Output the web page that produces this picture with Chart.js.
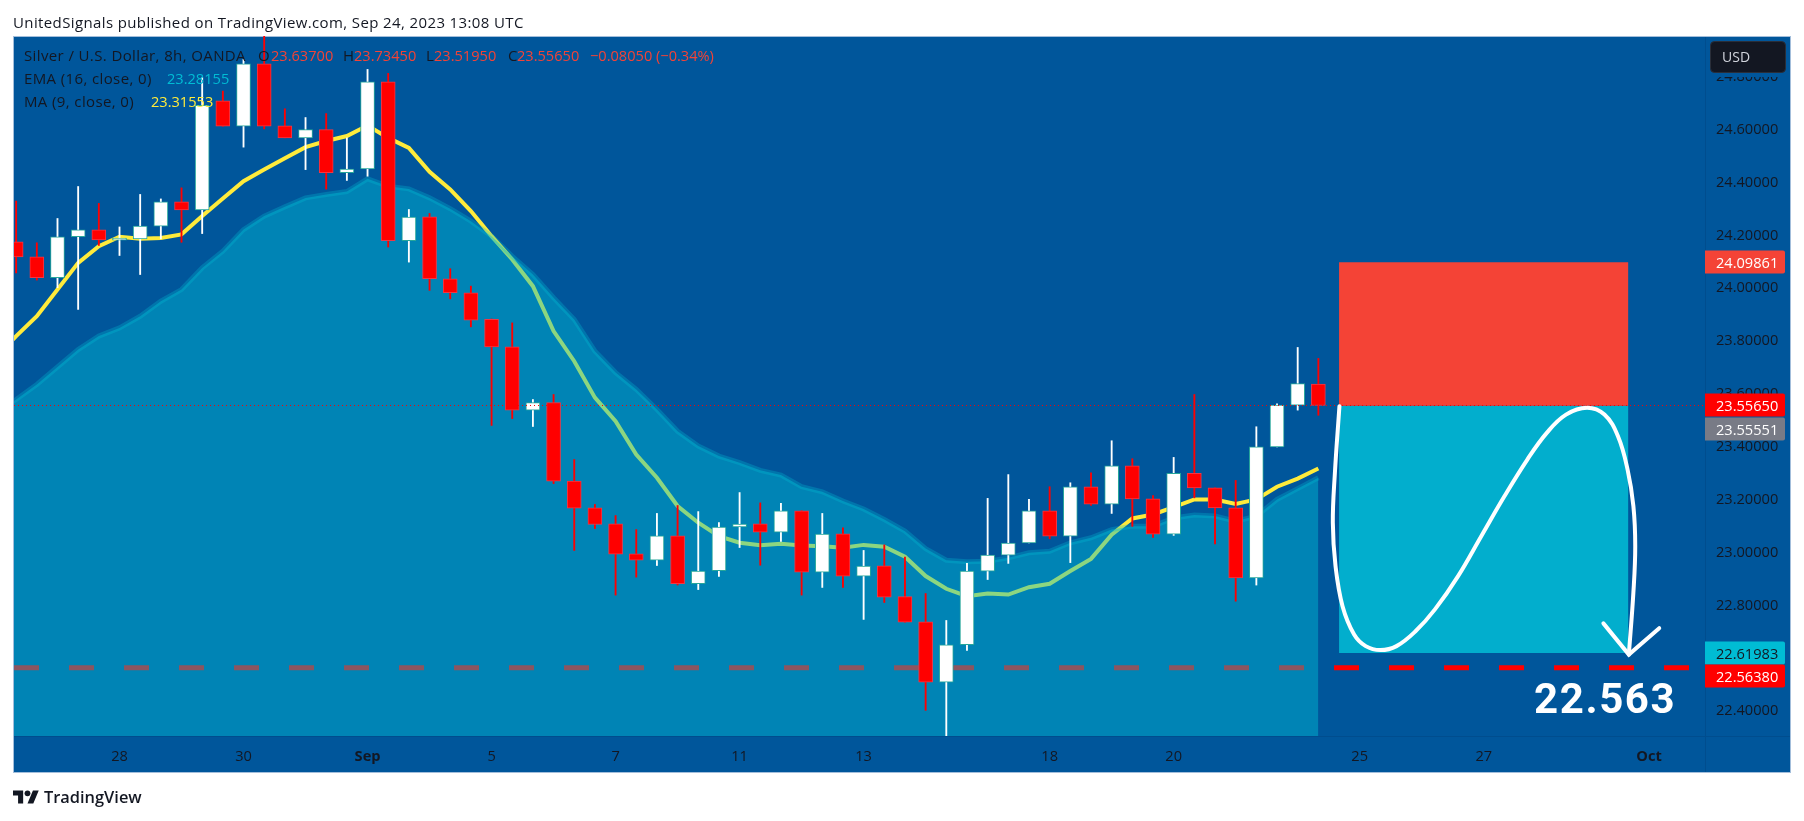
<!DOCTYPE html>
<html><head><meta charset="utf-8"><title>Silver / U.S. Dollar</title>
<style>html,body{margin:0;padding:0;background:#fff}canvas{display:block}</style>
<script src="https://cdn.jsdelivr.net/npm/chart.js@4"></script></head>
<body><canvas id="c" width="1804" height="821"></canvas>
<script>
const opens=[24.176,24.119,24.040,24.195,24.221,24.182,24.187,24.235,24.327,24.296,24.709,24.613,24.849,24.615,24.569,24.600,24.437,24.452,24.781,24.180,24.270,24.036,23.983,23.882,23.778,23.539,23.567,23.270,23.169,23.109,22.995,22.971,23.063,22.882,22.931,23.097,23.109,23.077,23.158,22.926,23.071,22.911,22.950,22.833,22.738,22.510,22.651,22.930,22.990,23.036,23.158,23.062,23.249,23.183,23.328,23.203,23.070,23.300,23.245,23.169,22.904,23.400,23.558,23.637];
const closes=[24.119,24.040,24.195,24.221,24.183,24.190,24.235,24.327,24.296,24.692,24.613,24.849,24.613,24.569,24.600,24.437,24.451,24.781,24.180,24.269,24.036,23.983,23.879,23.778,23.539,23.567,23.270,23.168,23.106,22.994,22.971,23.063,22.882,22.930,23.096,23.108,23.077,23.158,22.926,23.070,22.911,22.949,22.831,22.737,22.510,22.651,22.930,22.990,23.036,23.158,23.062,23.249,23.183,23.328,23.203,23.070,23.300,23.245,23.169,22.904,23.400,23.558,23.639,23.5565];
const highs=[24.330,24.172,24.264,24.385,24.321,24.232,24.355,24.338,24.380,24.797,24.746,24.866,25.000,24.679,24.646,24.661,24.569,24.828,24.813,24.298,24.283,24.074,24.008,23.884,23.869,23.579,23.598,23.352,23.182,23.140,23.087,23.148,23.178,23.155,23.113,23.227,23.188,23.186,23.158,23.148,23.094,23.008,23.029,22.983,22.845,22.743,22.959,23.205,23.295,23.201,23.249,23.264,23.302,23.423,23.355,23.216,23.360,23.598,23.245,23.273,23.476,23.563,23.776,23.7345];
const lows=[24.058,24.031,24.002,23.920,24.162,24.124,24.052,24.187,24.174,24.207,24.613,24.534,24.603,24.569,24.449,24.375,24.408,24.424,24.156,24.099,23.992,23.960,23.854,23.481,23.507,23.477,23.261,23.008,23.091,22.839,22.907,22.951,22.877,22.860,22.910,23.019,22.952,23.042,22.839,22.868,22.868,22.747,22.811,22.737,22.403,22.300,22.630,22.898,22.959,23.036,23.052,22.962,23.178,23.148,23.099,23.057,23.065,23.207,23.033,22.816,22.877,23.400,23.539,23.5195];
const maValues=[23.735,23.819,23.894,23.995,24.096,24.159,24.195,24.187,24.190,24.204,24.273,24.340,24.405,24.449,24.492,24.534,24.557,24.576,24.616,24.569,24.531,24.441,24.374,24.292,24.197,24.109,24.008,23.838,23.724,23.586,23.497,23.371,23.283,23.176,23.113,23.062,23.037,23.028,23.033,23.027,23.024,23.018,23.029,23.022,22.984,22.911,22.863,22.835,22.845,22.841,22.869,22.882,22.930,22.976,23.068,23.129,23.144,23.172,23.201,23.201,23.184,23.201,23.249,23.280,23.318];
const emaValues=[23.529,23.579,23.636,23.702,23.768,23.819,23.850,23.894,23.951,23.995,24.077,24.140,24.222,24.273,24.308,24.342,24.355,24.366,24.414,24.386,24.376,24.342,24.301,24.254,24.197,24.121,24.052,23.964,23.882,23.762,23.681,23.617,23.541,23.459,23.403,23.365,23.340,23.311,23.293,23.249,23.230,23.195,23.165,23.125,23.081,23.015,22.971,22.965,22.967,22.980,22.999,23.005,23.037,23.056,23.087,23.100,23.100,23.131,23.142,23.138,23.119,23.138,23.201,23.242,23.283];
const curveX=[64.02,63.80,63.70,63.83,64.17,64.73,65.29,66.00,66.78,67.71,68.64,69.76,70.88,72.00,73.11,74.05,74.98,76.00,76.84,77.49,77.96,78.24,78.33,78.24,78.02];
const curveY=[23.554,23.302,23.113,22.949,22.797,22.690,22.646,22.631,22.646,22.703,22.785,22.911,23.062,23.213,23.352,23.453,23.522,23.548,23.522,23.441,23.314,23.176,23.024,22.848,22.614];
const arrowX=[76.79,78.02,79.49];
const arrowY=[22.732,22.614,22.714];
const tickIndex=[5,11,17,23,29,35,41,50,56,65,71,79];
const tickLabels=['28','30','Sep','5','7','11','13','18','20','25','27','Oct'];
const yTicks=[24.8,24.6,24.4,24.2,24.0,23.8,23.6,23.4,23.2,23.0,22.8,22.6,22.4];
const boxStartIndex=64, boxEndIndex=78;
const stopPrice=24.09861, entryPrice=23.55551, targetPrice=22.61983, lastPrice=23.5565, levelPrice=22.5638;

const FONT='"Open Sans"';
const NUMSIZE=14.6;
const INK='#131722';
const BG='#00569b';

const framePlugin={id:'frame',
 beforeDraw(ch){const c=ch.ctx;c.save();
  c.fillStyle='#fff';c.fillRect(0,0,1804,821);
  c.fillStyle=BG;c.fillRect(13,36,1778,737);
  c.strokeStyle='#a3bedb';c.lineWidth=1;c.strokeRect(13.5,36.5,1777,736);
  c.strokeStyle='#004d8e';
  c.beginPath();c.moveTo(1705.5,37);c.lineTo(1705.5,772);c.moveTo(14,736.5);c.lineTo(1790,736.5);c.stroke();
  c.restore();},
 afterDraw(ch){const c=ch.ctx,y=ch.scales.y;c.save();
  c.textBaseline='middle';
  c.fillStyle=INK;c.font=`15px ${FONT}`;c.letterSpacing='0.38px';
  c.fillText('UnitedSignals published on TradingView.com, Sep 24, 2023 13:08 UTC',13,24);
  c.letterSpacing='0px';
  c.save();c.translate(13,787.5);c.scale(0.725,0.725);c.fillStyle=INK;
  c.fill(new Path2D('M14 22H7V11H0V4h14v18zM28 22h-8l7.5-18h8L28 22z'));
  c.beginPath();c.arc(20,8,4,0,Math.PI*2);c.fill();c.restore();
  c.fillStyle=INK;c.font='600 16.4px "Open Sans"';c.fillText('TradingView',44,798);
  const red='#f44336';
  const txt=[['Silver / U.S. Dollar, 8h, OANDA',24,57,INK],['O',258,57,INK],['H',343,57,INK],['L',426,57,INK],['C',508,57,INK],['EMA (16, close, 0)',24,80,INK],['MA (9, close, 0)',24,103,INK]];
  const num=[['23.63700',271,57,red],['23.73450',354,57,red],['23.51950',434,57,red],['23.55650',517,57,red],['\u22120.08050 (\u22120.34%)',590,57,red],['23.28155',167,80,'#00bcd4'],['23.31553',151,103,'#ffeb3b']];
  c.font=`15px ${FONT}`;c.letterSpacing='0.38px';
  txt.forEach(l=>{c.fillStyle=l[3];c.fillText(l[0],l[1],l[2]);});
  c.letterSpacing='0px';c.font=`${NUMSIZE}px ${FONT}`;
  num.forEach(l=>{c.fillStyle=l[3];c.fillText(l[0],l[1],l[2]);});
  c.fillStyle=BG;c.fillRect(1706,37,84,40);
  c.fillStyle=INK;c.strokeStyle='#2a2e39';c.beginPath();c.roundRect(1710.5,41.5,75,31,4);c.fill();c.stroke();
  c.fillStyle='#d1d4dc';c.font=`14px ${FONT}`;c.fillText('USD',1722,58);
  c.font=`${NUMSIZE}px ${FONT}`;
  const boxes=[[stopPrice,0,'#f44336','#fff'],[lastPrice,0,'#ff0000','#fff'],[entryPrice,23,'#787b86','#fff'],[targetPrice,0,'#00bcd4',INK],[levelPrice,8,'#ff0000','#fff']];
  boxes.forEach(b=>{const py=Math.round(y.getPixelForValue(b[0]))+b[1];
   c.fillStyle=b[2];c.beginPath();c.roundRect(1705,py-11.5,80,23,[0,2,2,0]);c.fill();
   c.fillStyle=b[3];c.fillText(b[0].toFixed(5),1716,py+1.5);});
  c.fillStyle='#fff';c.font='bold 42px Roboto';c.letterSpacing='1.6px';c.fillText('22.563',1534,702);c.letterSpacing='0px';
  c.restore();}
};

const lineBase={pointRadius:0,pointHoverRadius:0,fill:false};
const xy=(xs,ys)=>xs.map((x,i)=>({x,y:ys[i]}));
new Chart(document.getElementById('c'),{
 type:'line',
 plugins:[framePlugin],
 data:{datasets:[
  {...lineBase,label:'Curve',order:0,data:xy(curveX,curveY),borderColor:'#fff',borderWidth:4,tension:0.4,borderCapStyle:'round',borderJoinStyle:'round'},
  {...lineBase,label:'Arrow',order:0,data:xy(arrowX,arrowY),borderColor:'#fff',borderWidth:4,tension:0,borderCapStyle:'round',borderJoinStyle:'miter'},
  {...lineBase,label:'Last price',order:1,data:xy([-0.104,81.705],[lastPrice,lastPrice]),borderColor:'#ff0000',borderWidth:1,borderDash:[1,3]},
  {type:'bar',label:'Body',order:2,grouped:false,barThickness:14,borderWidth:1,borderSkipped:false,
   data:opens.map((o,i)=>({x:i,y:[o,closes[i]]})),
   backgroundColor:closes.map((v,i)=>v>=opens[i]?'#ffffff':'#ff0000'),
   borderColor:closes.map((v,i)=>v>=opens[i]?'#26a69a':'#f23645')},
  {type:'bar',label:'Wick',order:3,grouped:false,barThickness:1.2,borderWidth:0,
   data:highs.map((h,i)=>({x:i,y:[lows[i],h]})),
   backgroundColor:closes.map((v,i)=>v>=opens[i]?'#ffffff':'#ff0000')},
  {...lineBase,label:'EMA',order:4,data:emaValues.map((v,i)=>({x:i-1,y:v})),borderColor:'rgba(0,188,212,0.3)',borderWidth:5,tension:0,fill:'start',backgroundColor:'rgba(0,188,212,0.45)'},
  {...lineBase,label:'MA',order:5,data:maValues.map((v,i)=>({x:i-1,y:v})),borderColor:'#ffeb3b',borderWidth:4,tension:0},
  {...lineBase,label:'Level',order:6,data:xy([-0.104,81.705],[levelPrice,levelPrice]),borderColor:'#ff0000',borderWidth:5,borderDash:[25,30]},
  {...lineBase,label:'Stop zone',order:7,data:xy([boxStartIndex,boxEndIndex],[stopPrice,stopPrice]),borderWidth:0,borderColor:'transparent',fill:{value:entryPrice},backgroundColor:'#f44336'},
  {...lineBase,label:'Target zone',order:7,data:xy([boxStartIndex,boxEndIndex],[entryPrice,entryPrice]),borderWidth:0,borderColor:'transparent',fill:{value:targetPrice},backgroundColor:'#02aecd'}
 ]},
 options:{responsive:false,devicePixelRatio:1,animation:false,events:[],
  layout:{padding:{left:14,top:36,right:13,bottom:48}},
  plugins:{legend:{display:false},tooltip:{enabled:false},title:{display:false}},
  scales:{
   x:{type:'linear',min:-0.104,max:81.705,offset:false,
    grid:{display:false,drawTicks:false},border:{display:false},
    afterBuildTicks(s){s.ticks=tickIndex.map(value=>({value}));},
    afterFit(s){s.height=37;},
    ticks:{autoSkip:false,maxRotation:0,padding:12,color:INK,
     callback:v=>tickLabels[tickIndex.indexOf(v)],
     font:c=>({family:FONT,size:NUMSIZE,weight:c.tick&&(c.tick.label==='Sep'||c.tick.label==='Oct')?'bold':'normal'})}},
   y:{type:'linear',position:'right',min:22.3059,max:24.9545,beginAtZero:false,
    grid:{display:false,drawTicks:false},border:{display:false},
    afterBuildTicks(s){s.ticks=yTicks.map(value=>({value}));},
    afterFit(s){s.width=86;},
    ticks:{padding:11,color:INK,crossAlign:'near',callback:v=>v.toFixed(5),font:{family:FONT,size:NUMSIZE}}}
  }}
});
</script></body></html>
